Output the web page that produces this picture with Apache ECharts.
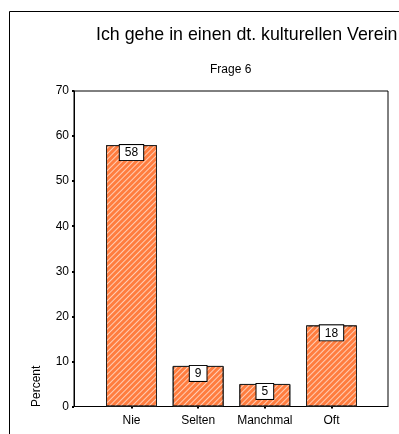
<!DOCTYPE html>
<html>
<head>
<meta charset="utf-8">
<script src="https://cdn.jsdelivr.net/npm/echarts@6/dist/echarts.min.js"></script>
<style>
  html, body { margin: 0; padding: 0; background: #fff; }
  #chart { width: 399px; height: 434px; }
</style>
</head>
<body>
<div id="chart"></div>
<script>
// Answers to "Frage 6", in percent
const categories = ['Nie', 'Selten', 'Manchmal', 'Oft'];
const percentValues = [58, 9, 5, 18];
const yTicks = [0, 10, 20, 30, 40, 50, 60, 70];

const FONT = '"Liberation Sans", Arial, sans-serif';

const chart = echarts.init(document.getElementById('chart'), null, { renderer: 'canvas' });

chart.setOption({
  animation: false,
  backgroundColor: '#fff',
  title: [
    {
      text: 'Ich gehe in einen dt. kulturellen Verein',
      left: 96, top: 26, padding: 0,
      textStyle: { fontFamily: FONT, fontSize: 17.8, fontWeight: 'normal', color: '#000' }
    },
    {
      text: 'Frage 6',
      left: 210, top: 64, padding: 0,
      textStyle: { fontFamily: FONT, fontSize: 12, fontWeight: 'normal', color: '#000' }
    }
  ],
  graphic: [
    {
      type: 'rect',
      shape: { x: 9.5, y: 11.5, width: 600, height: 600 },
      style: { fill: 'none', stroke: '#000', lineWidth: 1 },
      silent: true
    },
    {
      type: 'text',
      x: 37, y: 407,
      rotation: Math.PI / 2,
      style: {
        text: 'Percent', font: '12px ' + FONT, fill: '#000',
        textAlign: 'left', textVerticalAlign: 'middle'
      }
    }
  ],
  grid: {
    left: 74, right: 11, top: 91, bottom: 27.5,
    show: true, borderColor: '#000', borderWidth: 1, backgroundColor: 'transparent'
  },
  xAxis: {
    type: 'value',
    min: -0.8625, max: 3.8475,
    axisLine: { show: true, onZero: false, lineStyle: { color: '#000', width: 1 } },
    splitLine: { show: false },
    axisTick: {
      show: true, customValues: [0, 1, 2, 3], length: 2,
      lineStyle: { color: '#000', width: 2 }
    },
    axisLabel: {
      customValues: [0, 1, 2, 3],
      formatter: v => categories[Math.round(v)] || '',
      fontFamily: FONT, fontSize: 12, color: '#000', margin: 8
    }
  },
  yAxis: {
    type: 'value',
    min: 0, max: 70, interval: 10,
    axisLine: { show: true, onZero: false, lineStyle: { color: '#000', width: 1 } },
    splitLine: { show: false },
    axisTick: { show: true, length: 2, lineStyle: { color: '#000', width: 2 } },
    axisLabel: {
      formatter: v => (yTicks.includes(v) ? String(v) : ''),
      fontFamily: FONT, fontSize: 12, color: '#000', margin: 5
    }
  },
  series: [{
    type: 'bar',
    barWidth: 51,
    data: percentValues.map((v, i) => [i, v]),
    itemStyle: {
      color: '#FF7D3F',
      borderColor: '#222',
      borderWidth: 1,
      decal: {
        symbol: 'rect',
        symbolSize: 1,
        color: 'rgba(255,225,210,0.8)',
        dashArrayX: [1, 0],
        dashArrayY: [1, 3],
        rotation: -Math.PI / 4
      }
    },
    label: {
      show: true,
      position: 'insideTop',
      distance: 0,
      formatter: p => String(p.value[1]),
      fontFamily: FONT, fontSize: 12, color: '#000',
      backgroundColor: '#fff',
      borderColor: '#000', borderWidth: 1,
      padding: [2, 5, 1, 5]
    }
  }]
});
</script>
</body>
</html>
